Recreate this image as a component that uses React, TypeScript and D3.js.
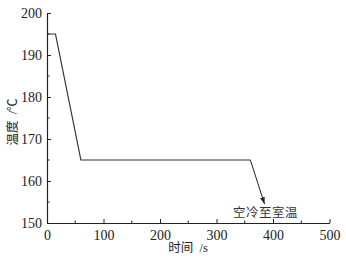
import React, { useEffect, useRef } from "react";
import * as d3 from "d3";

const times = [0, 15, 60, 360];
const temps = [195, 195, 165, 165];
const arrowEnd = { time: 385, temp: 154.5 };
const xTicks = [0, 100, 200, 300, 400, 500];
const yTicks = [150, 160, 170, 180, 190, 200];
const noteText = "空冷至室温";
const xTitle = "时间  /s";
const yTitle = "温度  /℃";

const FONT = "'Liberation Serif', 'Noto Sans CJK SC', serif";

export default function App() {
  const ref = useRef<SVGSVGElement>(null);

  useEffect(() => {
    const svg = d3.select(ref.current);
    svg.selectAll("*").remove();

    const margin = { left: 47, top: 13, right: 16.5, bottom: 36 };
    const width = 346 - margin.left - margin.right;
    const height = 259 - margin.top - margin.bottom;

    const x = d3.scaleLinear().domain([0, 500]).range([0, width]);
    const y = d3.scaleLinear().domain([150, 200]).range([height, 0]);

    svg
      .append("defs")
      .append("marker")
      .attr("id", "arrow")
      .attr("viewBox", "0 0 10 10")
      .attr("refX", 10)
      .attr("refY", 5)
      .attr("markerWidth", 7)
      .attr("markerHeight", 7)
      .attr("markerUnits", "userSpaceOnUse")
      .attr("orient", "auto")
      .append("path")
      .attr("d", "M0,1.5 L10,5 L0,8.5 Z")
      .attr("fill", "#222");

    const g = svg.append("g").attr("transform", `translate(${margin.left},${margin.top})`);

    // minor ticks
    const minorX = d3.range(50, 500, 100);
    const minorY = d3.range(155, 200, 10);
    g.selectAll(".mx")
      .data(minorX)
      .join("line")
      .attr("x1", (d) => x(d))
      .attr("x2", (d) => x(d))
      .attr("y1", height)
      .attr("y2", height - 2.5)
      .attr("stroke", "#222");
    g.selectAll(".my")
      .data(minorY)
      .join("line")
      .attr("x1", 0)
      .attr("x2", 2.5)
      .attr("y1", (d) => y(d))
      .attr("y2", (d) => y(d))
      .attr("stroke", "#222");

    // X axis
    const xAxis = g
      .append("g")
      .attr("transform", `translate(0,${height})`)
      .call(d3.axisBottom(x).tickValues(xTicks).tickSize(-4).tickPadding(5).tickSizeOuter(0));
    xAxis.attr("font-family", FONT);
    xAxis.select(".domain").attr("stroke", "#222").attr("stroke-width", 1.2);
    xAxis.selectAll(".tick line").attr("stroke", "#222");
    xAxis
      .selectAll("text")
      .attr("font-family", FONT)
      .attr("font-size", 14)
      .attr("fill", "#222")
      .attr("dy", "0.85em");

    // Y axis
    const yAxis = g
      .append("g")
      .call(d3.axisLeft(y).tickValues(yTicks).tickSize(-4).tickPadding(5).tickSizeOuter(0));
    yAxis.attr("font-family", FONT);
    yAxis.select(".domain").attr("stroke", "#222").attr("stroke-width", 1.2);
    yAxis.selectAll(".tick line").attr("stroke", "#222");
    yAxis
      .selectAll("text")
      .attr("font-family", FONT)
      .attr("font-size", 14)
      .attr("fill", "#222");

    // main curve
    const pts = times.map((t, i) => [t, temps[i]] as [number, number]);
    g.append("path")
      .datum(pts)
      .attr("fill", "none")
      .attr("stroke", "#333")
      .attr("stroke-width", 1.2)
      .attr("d", d3.line<[number, number]>().x((d) => x(d[0])).y((d) => y(d[1])));

    // arrow to room temp
    const last = pts[pts.length - 1];
    g.append("line")
      .attr("x1", x(last[0]))
      .attr("y1", y(last[1]))
      .attr("x2", x(arrowEnd.time))
      .attr("y2", y(arrowEnd.temp))
      .attr("stroke", "#222")
      .attr("stroke-width", 1)
      .attr("marker-end", "url(#arrow)");

    g.append("text")
      .attr("x", x(arrowEnd.time) + 1)
      .attr("y", y(arrowEnd.temp) + 12.5)
      .attr("text-anchor", "middle")
      .attr("font-family", "'Noto Sans CJK SC', sans-serif")
      .attr("font-size", 12.5)
      .attr("letter-spacing", 0.5)
      .attr("fill", "#333")
      .text(noteText);

    // axis titles
    svg
      .append("text")
      .attr("x", 188)
      .attr("y", 252)
      .attr("text-anchor", "middle")
      .attr("font-family", FONT)
      .attr("font-size", 12.5)
      .attr("fill", "#222")
      .style("white-space", "pre")
      .text(xTitle);

    svg
      .append("text")
      .attr("transform", `translate(17,122) rotate(-90)`)
      .attr("text-anchor", "middle")
      .attr("font-family", FONT)
      .attr("font-size", 12.5)
      .attr("fill", "#222")
      .style("white-space", "pre")
      .text(yTitle);
  }, []);

  return (
    <svg
      ref={ref}
      width={346}
      height={259}
      style={{ position: "absolute", left: 0, top: 0, background: "#fff" }}
    />
  );
}
